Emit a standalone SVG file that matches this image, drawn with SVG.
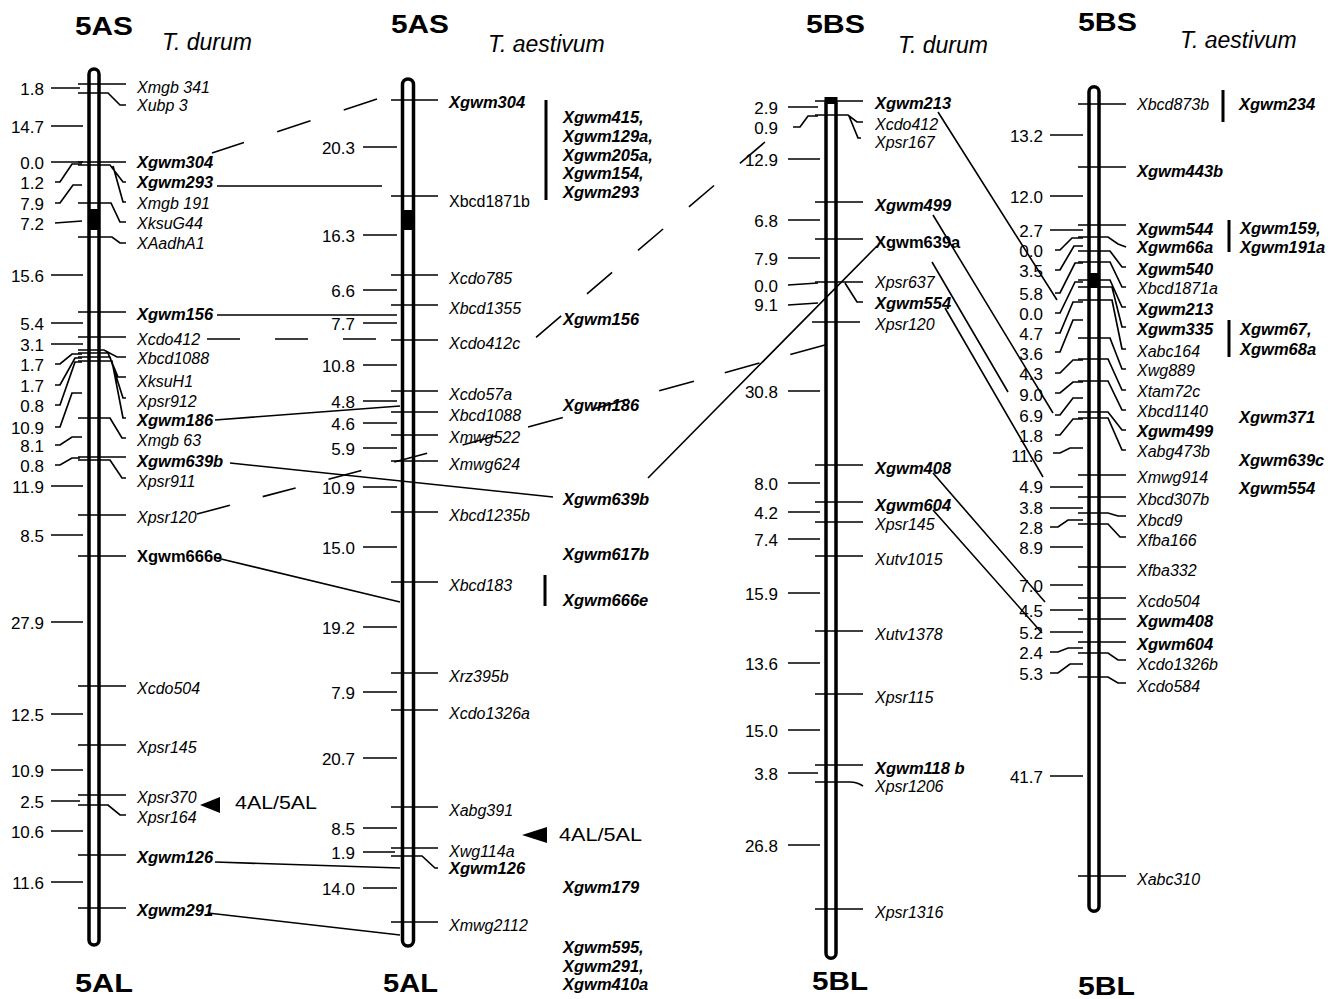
<svg xmlns="http://www.w3.org/2000/svg" width="1341" height="999" viewBox="0 0 1341 999">
<style>
.bg{fill:#fff}
.rod{fill:#fff;stroke:#000;stroke-width:3.5}
.cen{fill:#000}
.t{stroke:#000;stroke-width:1.7;fill:none}
.bar{stroke:#000;stroke-width:3;fill:none}
.c{stroke:#000;stroke-width:1.6;fill:none}
text{font-family:"Liberation Sans",Arial,sans-serif;fill:#000}
.n{font-size:17px;text-anchor:end}
.m{font-size:16px;font-style:italic}
.b{font-size:16.5px;font-style:italic;font-weight:bold}
.B{font-size:16.5px;font-weight:bold}
.u{font-size:16px}
.ti{font-size:25px;font-weight:bold}
.sp{font-size:23px;font-style:italic}
.tr{font-size:18px}
</style>
<rect class="bg" x="0" y="0" width="1341" height="999"/>

<g id="chr-5A-durum">
<rect class="rod" x="89" y="69" width="10" height="876" rx="5"/>
<rect class="cen" x="89" y="209" width="10" height="21"/>
<text class="ti" x="75" y="35" textLength="58" lengthAdjust="spacingAndGlyphs">5AS</text>
<text class="sp" x="162" y="50">T. durum</text>
<path class="t" d="M51 88H80M51 126H83M51 162H83M55 182H60L72 164H82M55 203H60L73 185H82M55 223L82 221M51 275H83M51 323H83M51 344H83M55 364H60L72 354H82M55 385H60L75 358H82M55 405H60L75 362H82M55 427H60L72 393H82M55 445H60L72 437H82M55 465H60L72 458H80M51 486H83M51 535H83M51 622H83M51 714H83M51 770H83M51 801H80M51 831H83M51 882H83"/>
<path class="t" d="M78 84H126M78 93H108L120 105H126M78 162H126M78 165H110L123 182H126M113 166L123 202H126M78 203H111L120 222H126M78 237H112L120 243H126M78 312H126M78 337H126M78 350H104L117 357H126M78 353H108L118 377H126M78 357H110L123 398H126M78 361H112L123 418H126M78 418H110L122 438H126M78 457H126M78 460H110L122 478H126M78 515H126M78 556H126M78 686H126M78 745H126M78 795H126M78 805H108L120 815H126M78 855H126M78 908H126"/>
<text class="n" x="44" y="95">1.8</text>
<text class="n" x="44" y="133">14.7</text>
<text class="n" x="44" y="169">0.0</text>
<text class="n" x="44" y="189">1.2</text>
<text class="n" x="44" y="210">7.9</text>
<text class="n" x="44" y="230">7.2</text>
<text class="n" x="44" y="282">15.6</text>
<text class="n" x="44" y="330">5.4</text>
<text class="n" x="44" y="351">3.1</text>
<text class="n" x="44" y="371">1.7</text>
<text class="n" x="44" y="392">1.7</text>
<text class="n" x="44" y="412">0.8</text>
<text class="n" x="44" y="434">10.9</text>
<text class="n" x="44" y="452">8.1</text>
<text class="n" x="44" y="472">0.8</text>
<text class="n" x="44" y="493">11.9</text>
<text class="n" x="44" y="542">8.5</text>
<text class="n" x="44" y="629">27.9</text>
<text class="n" x="44" y="721">12.5</text>
<text class="n" x="44" y="777">10.9</text>
<text class="n" x="44" y="808">2.5</text>
<text class="n" x="44" y="838">10.6</text>
<text class="n" x="44" y="889">11.6</text>
<text class="m" x="137" y="93">Xmgb 341</text>
<text class="m" x="137" y="111">Xubp 3</text>
<text class="b" x="137" y="168">Xgwm304</text>
<text class="b" x="137" y="188">Xgwm293</text>
<text class="m" x="137" y="209">Xmgb 191</text>
<text class="m" x="137" y="229">XksuG44</text>
<text class="m" x="137" y="249">XAadhA1</text>
<text class="b" x="137" y="320">Xgwm156</text>
<text class="m" x="137" y="345">Xcdo412</text>
<text class="m" x="137" y="364">Xbcd1088</text>
<text class="m" x="137" y="387">XksuH1</text>
<text class="m" x="137" y="407">Xpsr912</text>
<text class="b" x="137" y="426">Xgwm186</text>
<text class="m" x="137" y="446">Xmgb 63</text>
<text class="b" x="137" y="467">Xgwm639b</text>
<text class="m" x="137" y="487">Xpsr911</text>
<text class="m" x="137" y="523">Xpsr120</text>
<text class="B" x="137" y="562">Xgwm666e</text>
<text class="m" x="137" y="694">Xcdo504</text>
<text class="m" x="137" y="753">Xpsr145</text>
<text class="m" x="137" y="803">Xpsr370</text>
<text class="m" x="137" y="823">Xpsr164</text>
<text class="b" x="137" y="863">Xgwm126</text>
<text class="b" x="137" y="916">Xgwm291</text>
<polygon points="200,805 220,797 220,813" fill="#000"/>
<text class="tr" x="235" y="809" textLength="82" lengthAdjust="spacingAndGlyphs">4AL/5AL</text>
<text class="ti" x="75" y="992" textLength="58" lengthAdjust="spacingAndGlyphs">5AL</text>
</g>

<g id="chr-5A-aestivum">
<rect class="rod" x="402.5" y="79" width="11" height="867" rx="5.5"/>
<rect class="cen" x="402.5" y="210" width="11" height="20"/>
<text class="ti" x="391" y="33" textLength="58" lengthAdjust="spacingAndGlyphs">5AS</text>
<text class="sp" x="488" y="52">T. aestivum</text>
<path class="t" d="M363 147H397M363 235H397M363 290H397M363 323H397M363 365H397M363 401H397M363 423H397M363 448H397M363 487H397M363 547H397M363 627H397M363 692H397M363 758H397M363 828H397M363 852H395M363 888H397"/>
<path class="t" d="M391 100H438M391 196H438M391 275H438M391 305H438M391 340H438M391 391H438M391 412H438M391 435H438M391 461H438M391 512H438M391 582H438M391 673H438M391 710H438M391 807H438M391 848H438M391 856H422L435 868H438M391 922H438"/>
<path class="bar" d="M546 100V200M545 575V606"/>
<text class="n" x="355" y="154">20.3</text>
<text class="n" x="355" y="242">16.3</text>
<text class="n" x="355" y="297">6.6</text>
<text class="n" x="355" y="330">7.7</text>
<text class="n" x="355" y="372">10.8</text>
<text class="n" x="355" y="408">4.8</text>
<text class="n" x="355" y="430">4.6</text>
<text class="n" x="355" y="455">5.9</text>
<text class="n" x="355" y="494">10.9</text>
<text class="n" x="355" y="554">15.0</text>
<text class="n" x="355" y="634">19.2</text>
<text class="n" x="355" y="699">7.9</text>
<text class="n" x="355" y="765">20.7</text>
<text class="n" x="355" y="835">8.5</text>
<text class="n" x="355" y="859">1.9</text>
<text class="n" x="355" y="895">14.0</text>
<text class="b" x="449" y="108">Xgwm304</text>
<text class="u" x="449" y="207">Xbcd1871b</text>
<text class="m" x="449" y="284">Xcdo785</text>
<text class="m" x="449" y="314">Xbcd1355</text>
<text class="m" x="449" y="349">Xcdo412c</text>
<text class="m" x="449" y="400">Xcdo57a</text>
<text class="m" x="449" y="421">Xbcd1088</text>
<text class="m" x="449" y="443">Xmwg522</text>
<text class="m" x="449" y="470">Xmwg624</text>
<text class="m" x="449" y="521">Xbcd1235b</text>
<text class="m" x="449" y="591">Xbcd183</text>
<text class="m" x="449" y="682">Xrz395b</text>
<text class="m" x="449" y="719">Xcdo1326a</text>
<text class="m" x="449" y="816">Xabg391</text>
<text class="m" x="449" y="857">Xwg114a</text>
<text class="b" x="449" y="874">Xgwm126</text>
<text class="m" x="449" y="931">Xmwg2112</text>
<text class="b" x="563" y="123">Xgwm415,</text>
<text class="b" x="563" y="142">Xgwm129a,</text>
<text class="b" x="563" y="161">Xgwm205a,</text>
<text class="b" x="563" y="179">Xgwm154,</text>
<text class="b" x="563" y="198">Xgwm293</text>
<text class="b" x="563" y="325">Xgwm156</text>
<text class="b" x="563" y="411">Xgwm186</text>
<text class="b" x="563" y="505">Xgwm639b</text>
<text class="b" x="563" y="560">Xgwm617b</text>
<text class="b" x="563" y="606">Xgwm666e</text>
<text class="b" x="563" y="893">Xgwm179</text>
<text class="b" x="563" y="953">Xgwm595,</text>
<text class="b" x="563" y="972">Xgwm291,</text>
<text class="b" x="563" y="990">Xgwm410a</text>
<polygon points="522,835 547,827 547,843" fill="#000"/>
<text class="tr" x="559" y="841" textLength="83" lengthAdjust="spacingAndGlyphs">4AL/5AL</text>
<text class="ti" x="383" y="992" textLength="55" lengthAdjust="spacingAndGlyphs">5AL</text>
</g>

<g id="chr-5B-durum">
<rect class="rod" x="826" y="98.75" width="10" height="859.5" rx="5"/>
<rect class="cen" x="824.5" y="97" width="13" height="7"/>
<text class="ti" x="806" y="33" textLength="59" lengthAdjust="spacingAndGlyphs">5BS</text>
<text class="sp" x="898" y="53">T. durum</text>
<path class="t" d="M788 107H818M793 127H800L808 116H818M788 159H820M788 220H820M788 258H820M788 285L818 283M788 305L818 303M788 391H820M788 483H820M788 512H820M788 539H820M788 593H820M788 663H820M788 730H820M788 773H818M788 845H820"/>
<path class="t" d="M815 101H863M815 115H848L857 122H863M849 116L858 138H861M815 202H863M815 239H863M815 282H863M845 283L857 302H863M812 322H860M815 465H863M815 502H863M815 522H863M815 556H863M815 631H863M815 694H863M815 765H863M815 782H850Q857 782 863 786M815 909H863"/>
<text class="n" x="778" y="114">2.9</text>
<text class="n" x="778" y="134">0.9</text>
<text class="n" x="778" y="166">12.9</text>
<text class="n" x="778" y="227">6.8</text>
<text class="n" x="778" y="265">7.9</text>
<text class="n" x="778" y="292">0.0</text>
<text class="n" x="778" y="311">9.1</text>
<text class="n" x="778" y="398">30.8</text>
<text class="n" x="778" y="490">8.0</text>
<text class="n" x="778" y="519">4.2</text>
<text class="n" x="778" y="546">7.4</text>
<text class="n" x="778" y="600">15.9</text>
<text class="n" x="778" y="670">13.6</text>
<text class="n" x="778" y="737">15.0</text>
<text class="n" x="778" y="780">3.8</text>
<text class="n" x="778" y="852">26.8</text>
<text class="b" x="875" y="109">Xgwm213</text>
<text class="m" x="875" y="130">Xcdo412</text>
<text class="m" x="875" y="148">Xpsr167</text>
<text class="b" x="875" y="211">Xgwm499</text>
<text class="B" x="875" y="248">Xgwm639a</text>
<text class="m" x="875" y="288">Xpsr637</text>
<text class="b" x="875" y="309">Xgwm554</text>
<text class="m" x="875" y="330">Xpsr120</text>
<text class="b" x="875" y="474">Xgwm408</text>
<text class="b" x="875" y="511">Xgwm604</text>
<text class="m" x="875" y="530">Xpsr145</text>
<text class="m" x="875" y="565">Xutv1015</text>
<text class="m" x="875" y="640">Xutv1378</text>
<text class="m" x="875" y="703">Xpsr115</text>
<text class="b" x="875" y="774">Xgwm118 b</text>
<text class="m" x="875" y="792">Xpsr1206</text>
<text class="m" x="875" y="918">Xpsr1316</text>
<text class="ti" x="812" y="990" textLength="56" lengthAdjust="spacingAndGlyphs">5BL</text>
</g>

<g id="chr-5B-aestivum">
<rect class="rod" x="1089" y="86.75" width="10" height="824.5" rx="5"/>
<rect class="cen" x="1089" y="273" width="10" height="15"/>
<text class="ti" x="1078" y="31" textLength="59" lengthAdjust="spacingAndGlyphs">5BS</text>
<text class="sp" x="1180" y="48">T. aestivum</text>
<path class="t" d="M1050 135H1083M1050 196H1083M1050 230H1083M1055 250H1060L1072 238H1083M1055 270H1060L1074 246H1083M1055 293H1060L1075 263H1083M1055 313H1060L1075 282H1083M1055 333H1060L1073 302H1083M1055 352H1060L1073 320H1083M1055 373H1060L1073 360H1083M1055 393H1060L1073 382H1083M1055 415H1060L1073 398H1083M1055 435H1060L1073 419H1083M1053 453H1060L1070 448H1083M1050 487H1083M1050 508H1083M1050 527H1058L1068 520H1083M1050 547H1083M1050 585H1083M1050 610H1083M1050 632H1083M1050 652H1058L1068 648H1083M1050 673H1058L1070 664H1083M1050 776H1083"/>
<path class="t" d="M1078 104H1126M1078 167H1126M1078 225H1126M1078 237H1108L1118 244L1126 247M1078 251H1110L1122 267H1126M1078 262H1110L1122 287H1126M1078 280H1110L1122 307H1126M1078 287H1112L1122 327H1126M1078 300H1112L1122 349H1126M1078 338H1110L1122 369H1126M1078 359H1108L1122 390H1126M1078 381H1108L1122 410H1126M1078 412H1108L1122 430H1126M1078 418H1108L1122 450H1126M1078 475H1126M1078 497H1126M1078 513H1108L1118 516H1126M1078 524H1108L1120 537H1126M1078 567H1126M1078 598H1126M1078 619H1126M1078 642H1126M1078 653H1108L1118 660H1126M1078 677H1108L1118 683H1126M1078 876H1126"/>
<path class="bar" d="M1223 90V122M1229 220V252M1229 320V357"/>
<text class="n" x="1043" y="142">13.2</text>
<text class="n" x="1043" y="203">12.0</text>
<text class="n" x="1043" y="237">2.7</text>
<text class="n" x="1043" y="257">0.0</text>
<text class="n" x="1043" y="277">3.5</text>
<text class="n" x="1043" y="300">5.8</text>
<text class="n" x="1043" y="320">0.0</text>
<text class="n" x="1043" y="340">4.7</text>
<text class="n" x="1043" y="360">3.6</text>
<text class="n" x="1043" y="380">4.3</text>
<text class="n" x="1043" y="401">9.0</text>
<text class="n" x="1043" y="422">6.9</text>
<text class="n" x="1043" y="442">1.8</text>
<text class="n" x="1043" y="462">11.6</text>
<text class="n" x="1043" y="493">4.9</text>
<text class="n" x="1043" y="514">3.8</text>
<text class="n" x="1043" y="534">2.8</text>
<text class="n" x="1043" y="554">8.9</text>
<text class="n" x="1043" y="592">7.0</text>
<text class="n" x="1043" y="617">4.5</text>
<text class="n" x="1043" y="639">5.2</text>
<text class="n" x="1043" y="659">2.4</text>
<text class="n" x="1043" y="680">5.3</text>
<text class="n" x="1043" y="783">41.7</text>
<text class="m" x="1137" y="110">Xbcd873b</text>
<text class="b" x="1137" y="177">Xgwm443b</text>
<text class="b" x="1137" y="235">Xgwm544</text>
<text class="b" x="1137" y="253">Xgwm66a</text>
<text class="b" x="1137" y="275">Xgwm540</text>
<text class="m" x="1137" y="294">Xbcd1871a</text>
<text class="b" x="1137" y="315">Xgwm213</text>
<text class="b" x="1137" y="335">Xgwm335</text>
<text class="m" x="1137" y="357">Xabc164</text>
<text class="m" x="1137" y="376">Xwg889</text>
<text class="m" x="1137" y="397">Xtam72c</text>
<text class="m" x="1137" y="417">Xbcd1140</text>
<text class="b" x="1137" y="437">Xgwm499</text>
<text class="m" x="1137" y="457">Xabg473b</text>
<text class="m" x="1137" y="483">Xmwg914</text>
<text class="m" x="1137" y="505">Xbcd307b</text>
<text class="m" x="1137" y="526">Xbcd9</text>
<text class="m" x="1137" y="546">Xfba166</text>
<text class="m" x="1137" y="576">Xfba332</text>
<text class="m" x="1137" y="607">Xcdo504</text>
<text class="b" x="1137" y="627">Xgwm408</text>
<text class="b" x="1137" y="650">Xgwm604</text>
<text class="m" x="1137" y="670">Xcdo1326b</text>
<text class="m" x="1137" y="692">Xcdo584</text>
<text class="m" x="1137" y="885">Xabc310</text>
<text class="b" x="1239" y="110">Xgwm234</text>
<text class="b" x="1240" y="234">Xgwm159,</text>
<text class="b" x="1240" y="253">Xgwm191a</text>
<text class="b" x="1240" y="335">Xgwm67,</text>
<text class="b" x="1240" y="355">Xgwm68a</text>
<text class="b" x="1239" y="423">Xgwm371</text>
<text class="b" x="1239" y="466">Xgwm639c</text>
<text class="b" x="1239" y="494">Xgwm554</text>
<text class="ti" x="1078" y="995" textLength="57" lengthAdjust="spacingAndGlyphs">5BL</text>
</g>

<g id="connectors">
<path class="c" d="M217 186H382M217 315H397M215 420L400 406M230 463L553 497M217 558L400 602M215 862L400 868M208 913L400 935M648 478L877 246M938 112L1057 300M933 215L1053 413M932 262L1008 392M945 308L1043 477M933 473L1045 602M933 510L1042 633"/>
<path class="c" d="M377 99L212 153" stroke-dasharray="35 35"/>
<path class="c" d="M207 339H378" stroke-dasharray="33 35"/>
<path class="c" d="M197 514L428 453" stroke-dasharray="34 34"/>
<path class="c" d="M765 142L533 340" stroke-dasharray="33 34"/>
<path class="c" d="M825 345L452 448" stroke-dasharray="36 32"/>
</g>
</svg>
